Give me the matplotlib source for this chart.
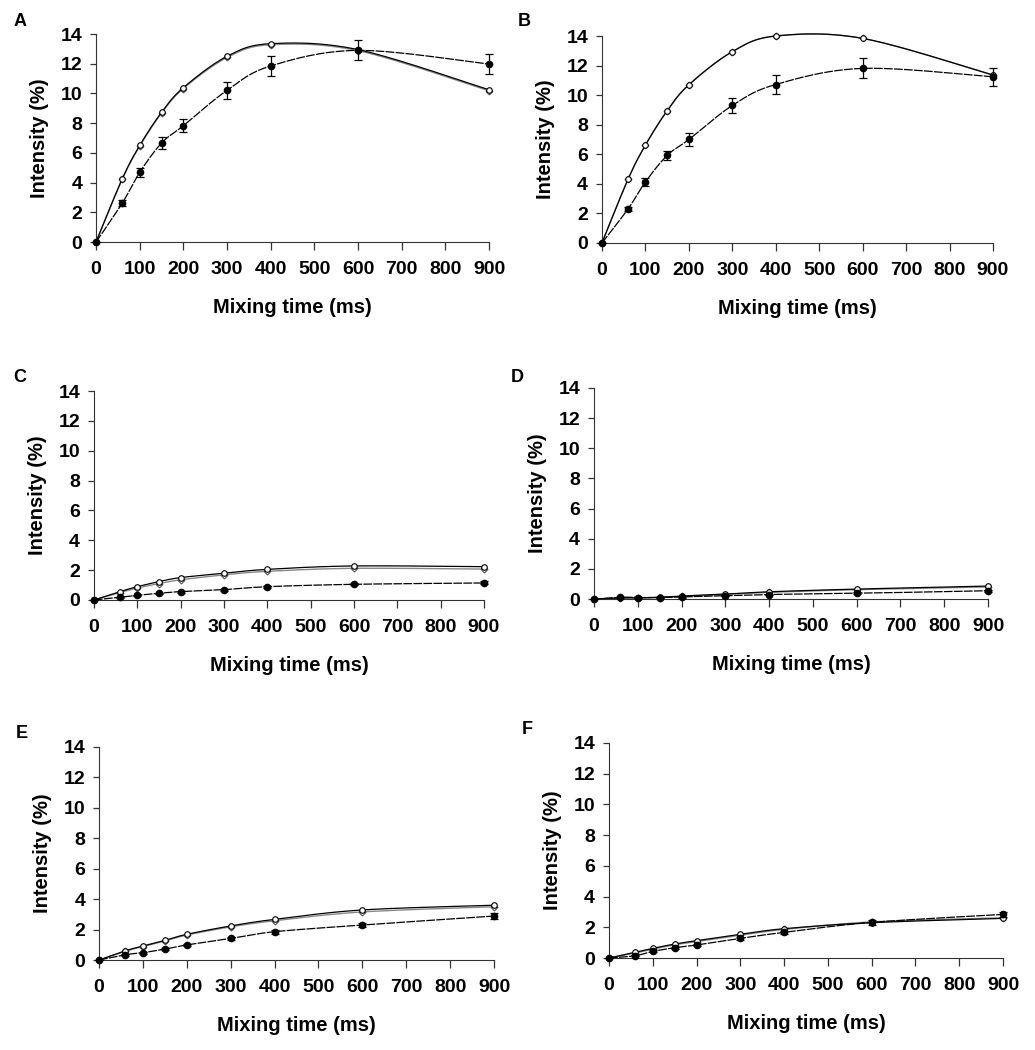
import numpy as np
import matplotlib
matplotlib.use("Agg")
import matplotlib.pyplot as plt

plt.rcParams['font.family'] = ['Liberation Sans', 'DejaVu Sans']
plt.rcParams['font.weight'] = 'bold'

times = [0, 60, 100, 150, 200, 300, 400, 600, 900]
panel_names = ["A", "B", "C", "D", "E", "F"]

# open symbols, first series
open_a = [0, 4.26, 6.5, 8.73, 10.39, 12.5, 13.35, 12.95, 10.25]
open_b = [0, 4.31, 6.62, 8.94, 10.70, 12.94, 14.0, 13.84, 11.36]
open_c = [0, 0.56, 0.89, 1.23, 1.5, 1.79, 2.05, 2.28, 2.23]
open_d = [0, 0.08, 0.08, 0.12, 0.2, 0.33, 0.48, 0.66, 0.86]
open_e = [0, 0.61, 0.92, 1.29, 1.69, 2.24, 2.67, 3.29, 3.6]
open_f = [0, 0.37, 0.63, 0.91, 1.13, 1.54, 1.91, 2.3, 2.58]

# open symbols, second series
open2_a = [0, 4.22, 6.45, 8.68, 10.33, 12.42, 13.28, 12.88, 10.18]
open2_b = [0, 4.31, 6.62, 8.94, 10.70, 12.94, 14.0, 13.84, 11.36]
open2_c = [0, 0.5, 0.8, 1.1, 1.35, 1.68, 1.92, 2.12, 2.07]
open2_d = [0, 0.05, 0.06, 0.1, 0.17, 0.3, 0.44, 0.62, 0.8]
open2_e = [0, 0.58, 0.88, 1.25, 1.64, 2.18, 2.58, 3.16, 3.5]
open2_f = [0, 0.33, 0.58, 0.86, 1.07, 1.48, 1.86, 2.35, 2.62]

# filled symbols with error bars
filled_a = [0, 2.62, 4.69, 6.66, 7.83, 10.21, 11.85, 12.9, 11.98]
filled_b = [0, 2.30, 4.13, 5.92, 7.0, 9.3, 10.72, 11.81, 11.24]
filled_c = [0, 0.18, 0.31, 0.45, 0.56, 0.69, 0.89, 1.05, 1.14]
filled_d = [0, 0.12, 0.1, 0.1, 0.14, 0.22, 0.3, 0.38, 0.55]
filled_e = [0, 0.35, 0.48, 0.72, 0.99, 1.42, 1.86, 2.3, 2.89]
filled_f = [0, 0.15, 0.43, 0.67, 0.85, 1.28, 1.67, 2.32, 2.84]

err_a = [0, 0.2, 0.3, 0.38, 0.45, 0.57, 0.67, 0.68, 0.7]
err_b = [0, 0.15, 0.25, 0.3, 0.44, 0.52, 0.64, 0.67, 0.63]
err_c = [0, 0.05, 0.05, 0.05, 0.06, 0.06, 0.07, 0.08, 0.1]
err_d = [0, 0.04, 0.04, 0.04, 0.04, 0.05, 0.05, 0.06, 0.08]
err_e = [0, 0.06, 0.06, 0.06, 0.07, 0.1, 0.12, 0.15, 0.2]
err_f = [0, 0.05, 0.06, 0.07, 0.08, 0.1, 0.12, 0.15, 0.18]

opens = [open_a, open_b, open_c, open_d, open_e, open_f]
opens2 = [open2_a, open2_b, open2_c, open2_d, open2_e, open2_f]
filleds = [filled_a, filled_b, filled_c, filled_d, filled_e, filled_f]
errs = [err_a, err_b, err_c, err_d, err_e, err_f]

# axes boxes [left, bottom, width, height] in figure fraction
boxes = [
    [0.0928, 0.7695, 0.3797, 0.1981],
    [0.5816, 0.7686, 0.3778, 0.1971],
    [0.0908, 0.4286, 0.3768, 0.1990],
    [0.5739, 0.4295, 0.3807, 0.2010],
    [0.0957, 0.0857, 0.3816, 0.2029],
    [0.5884, 0.0876, 0.3807, 0.2048],
]
label_pos = [(20, 22), (524, 22), (20, 377), (517, 377), (22, 733), (527, 730)]


def smooth(x, y, n=25):
    # excel style smoothed line (bezier through the points)
    pts = np.column_stack([x, y]).astype(float)
    out = [pts[0]]
    t = np.linspace(0, 1, n)[1:, None]
    for i in range(len(pts) - 1):
        p0 = pts[i - 1] if i > 0 else pts[i]
        p1 = pts[i]
        p2 = pts[i + 1]
        p3 = pts[i + 2] if i + 2 < len(pts) else pts[i + 1]
        c1 = p1 + (p2 - p0) / 6
        c2 = p2 - (p3 - p1) / 6
        seg = (1 - t)**3 * p1 + 3 * (1 - t)**2 * t * c1 + 3 * (1 - t) * t**2 * c2 + t**3 * p2
        out.extend(seg)
    out = np.array(out)
    return out[:, 0], out[:, 1]


fig = plt.figure(figsize=(10.35, 10.5), dpi=100)

for i in range(6):
    ax = fig.add_axes(boxes[i])

    sx, sy = smooth(times, opens2[i])
    ax.plot(sx, sy, color='#888888', lw=1.0, clip_on=False, zorder=2)
    ax.plot(times, opens2[i], ls='none', marker='D', ms=3.5, mfc='white',
            mec='#555555', mew=0.8, clip_on=False, zorder=3)

    sx, sy = smooth(times, opens[i])
    ax.plot(sx, sy, color='black', lw=0.9, clip_on=False, zorder=4)
    ax.plot(times, opens[i], ls='none', marker='o', ms=4, mfc='white',
            mec='black', mew=0.8, clip_on=False, zorder=5)

    sx, sy = smooth(times, filleds[i])
    ax.plot(sx, sy, color='black', lw=0.9, ls=(0, (7, 1)), clip_on=False, zorder=4)
    ax.errorbar(times, filleds[i], yerr=errs[i], fmt='o', ms=4.5, color='black',
                ecolor='black', elinewidth=0.9, capsize=3, capthick=0.9,
                clip_on=False, zorder=6)

    ax.set_xlim(0, 900)
    ax.set_ylim(0, 14)
    ax.set_xticks(range(0, 1000, 100))
    ax.set_yticks(range(0, 16, 2))
    ax.spines['top'].set_visible(False)
    ax.spines['right'].set_visible(False)
    ax.spines['left'].set_color('#333333')
    ax.spines['bottom'].set_color('#333333')
    ax.tick_params(axis='x', direction='out', length=6, width=0.9, pad=8,
                   labelsize=14, colors='#333333', labelcolor='black')
    ax.tick_params(axis='y', direction='out', length=4, width=0.9, pad=6,
                   labelsize=14, colors='#333333', labelcolor='black')
    for lab in ax.get_xticklabels() + ax.get_yticklabels():
        lab.set_fontweight('bold')
    ax.set_xlabel("Mixing time (ms)", fontsize=14.5, fontweight='bold', labelpad=14)
    ax.set_ylabel("Intensity (%)", fontsize=14.5, fontweight='bold', labelpad=8)

    px, py = label_pos[i]
    fig.text(px / 1035, 1 - py / 1050, panel_names[i], fontsize=13,
             fontweight='bold', ha='center', va='center')

fig.savefig("out.png", dpi=100)
